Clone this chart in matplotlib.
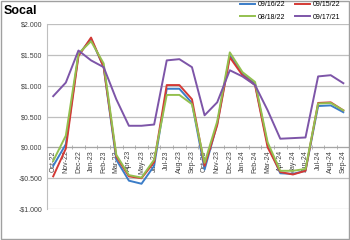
"""
Socal forward curve comparison, four pricing dates.
Saves out.png (350x240).
"""
import matplotlib
matplotlib.use("Agg")
import matplotlib.pyplot as plt
from matplotlib.patches import Rectangle
from matplotlib.ticker import FuncFormatter, MultipleLocator

plt.rcParams["font.family"] = ["Liberation Sans", "DejaVu Sans"]

months = [
    "Oct-22", "Nov-22", "Dec-22", "Jan-23", "Feb-23", "Mar-23", "Apr-23", "May-23",
    "Jun-23", "Jul-23", "Aug-23", "Sep-23", "Oct-23", "Nov-23", "Dec-23", "Jan-24",
    "Feb-24", "Mar-24", "Apr-24", "May-24", "Jun-24", "Jul-24", "Aug-24", "Sep-24",
]

# values ($)
curve_091622 = [-0.30, 0.05, 1.50, 1.76, 1.30, -0.20, -0.54, -0.59, -0.30, 0.95, 0.95, 0.72,
                -0.36, 0.38, 1.49, 1.19, 1.03, 0.04, -0.42, -0.43, -0.38, 0.67, 0.68, 0.57]
curve_091522 = [-0.47, -0.02, 1.48, 1.78, 1.30, -0.15, -0.47, -0.50, -0.24, 1.01, 1.01, 0.78,
                -0.30, 0.36, 1.46, 1.17, 1.01, 0.00, -0.40, -0.44, -0.38, 0.72, 0.73, 0.60]
curve_081822 = [-0.22, 0.19, 1.52, 1.72, 1.36, -0.12, -0.45, -0.49, -0.20, 0.85, 0.85, 0.70,
                -0.25, 0.42, 1.54, 1.22, 1.06, 0.08, -0.38, -0.38, -0.35, 0.71, 0.72, 0.60]
curve_091721 = [0.83, 1.05, 1.57, 1.41, 1.30, 0.78, 0.35, 0.35, 0.37, 1.41, 1.43, 1.30,
                0.52, 0.73, 1.25, 1.15, 1.01, 0.60, 0.14, 0.15, 0.16, 1.15, 1.17, 1.04]

series = [
    ("09/16/22", curve_091622, "#3B7DC8"),
    ("09/15/22", curve_091522, "#D43A35"),
    ("08/18/22", curve_081822, "#94C04F"),
    ("09/17/21", curve_091721, "#7D55A8"),
]

fig = plt.figure(figsize=(3.5, 2.4), dpi=100)
ax = fig.add_axes([0.134, 0.129, 0.865, 0.771])

x = list(range(len(months)))
handles = {}
for name, vals, color in series:
    (h,) = ax.plot(x, vals, color=color, lw=1.4, label=name, zorder=3)
    handles[name] = h

ax.set_xlim(-0.5, len(months) - 0.5)
ax.set_ylim(-1.0, 2.0)
ax.yaxis.set_major_locator(MultipleLocator(0.5))
ax.yaxis.set_major_formatter(
    FuncFormatter(lambda v, _: f"-${abs(v):.3f}" if v < 0 else f"${v:.3f}")
)
ax.grid(axis="y", color="#BFBFBF", lw=0.9, zorder=0)

for side in ("top", "right"):
    ax.spines[side].set_visible(False)
ax.spines["left"].set_color("#BFBFBF")
ax.spines["bottom"].set_color("#A6A6A6")
ax.spines["bottom"].set_position(("data", 0))

ax.set_xticks(x)
ax.set_xticklabels(months, rotation=90, fontsize=5, color="#404040")
ax.set_xticks([i + 0.5 for i in x[:-1]], minor=True)
ax.tick_params(axis="x", which="major", length=0, pad=2)
ax.tick_params(axis="x", which="minor", length=2.5, color="#A6A6A6", direction="inout")
ax.tick_params(axis="y", length=0, labelsize=5, labelcolor="#404040", pad=3)

order = ["09/16/22", "08/18/22", "09/15/22", "09/17/21"]
fig.legend(
    [handles[n] for n in order], order,
    ncol=2, loc="upper right", bbox_to_anchor=(0.99, 1.02),
    frameon=False, fontsize=5, handlelength=2.2, handletextpad=0.4,
    columnspacing=1.3, labelspacing=0.75,
)

fig.text(0.01, 0.955, "Socal", fontsize=9, fontweight="bold", va="center", ha="left")

fig.patches.append(
    Rectangle((0.002, 0.004), 0.995, 0.992, transform=fig.transFigure,
              fill=False, edgecolor="#A0A0A0", lw=1.0)
)

fig.savefig("out.png", dpi=100)
